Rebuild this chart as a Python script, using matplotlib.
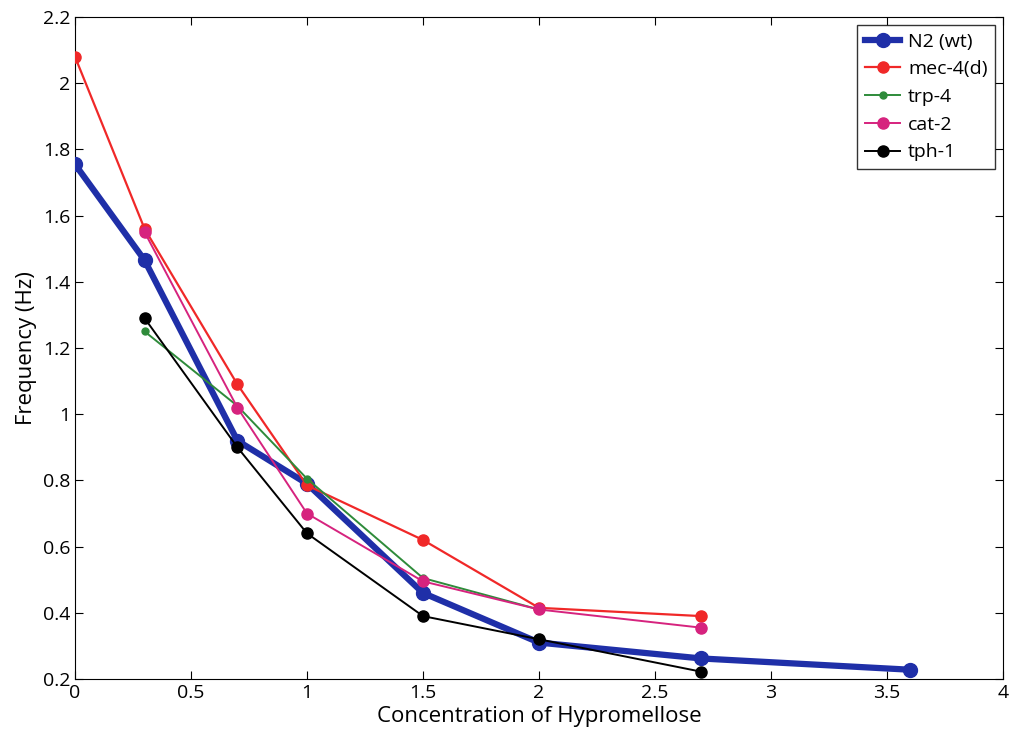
import matplotlib
matplotlib.use("Agg")
import matplotlib.pyplot as plt

plt.rcParams['font.family'] = ['Open Sans', 'DejaVu Sans']

n2_x = [0, 0.3, 0.7, 1.0, 1.5, 2.0, 2.7, 3.6]
n2_y = [1.755, 1.465, 0.92, 0.79, 0.46, 0.31, 0.262, 0.228]
mec_x = [0, 0.3, 0.7, 1.0, 1.5, 2.0, 2.7]
mec_y = [2.08, 1.56, 1.09, 0.785, 0.62, 0.415, 0.39]
trp_x = [0.3, 0.7, 1.0, 1.5, 2.0]
trp_y = [1.25, 1.025, 0.805, 0.505, 0.41]
cat_x = [0.3, 0.7, 1.0, 1.5, 2.0, 2.7]
cat_y = [1.55, 1.02, 0.70, 0.495, 0.41, 0.355]
tph_x = [0.3, 0.7, 1.0, 1.5, 2.0, 2.7]
tph_y = [1.29, 0.90, 0.64, 0.39, 0.32, 0.222]

xticks = [0, 0.5, 1, 1.5, 2, 2.5, 3, 3.5, 4]
xticklabels = ['0', '0.5', '1', '1.5', '2', '2.5', '3', '3.5', '4']
yticks = [0.2, 0.4, 0.6, 0.8, 1.0, 1.2, 1.4, 1.6, 1.8, 2.0, 2.2]
yticklabels = ['0.2', '0.4', '0.6', '0.8', '1', '1.2', '1.4', '1.6', '1.8', '2', '2.2']

fig = plt.figure(figsize=(10.12, 7.42), dpi=100)
ax = fig.add_axes([75/1012, 1 - 679/742, (1003-75)/1012, (679-17)/742])

ax.plot(n2_x, n2_y, color='#1f2fa8', lw=4.5, marker='o', ms=10, label='N2 (wt)', zorder=3)
ax.plot(mec_x, mec_y, color='#f02828', lw=1.6, marker='o', ms=8, label='mec-4(d)', zorder=4)
ax.plot(trp_x, trp_y, color='#2e8b3a', lw=1.4, marker='o', ms=5, label='trp-4', zorder=4)
ax.plot(cat_x, cat_y, color='#d6237e', lw=1.4, marker='o', ms=8, label='cat-2', zorder=5)
ax.plot(tph_x, tph_y, color='black', lw=1.4, marker='o', ms=8, label='tph-1', zorder=6)

ax.set_xlim(0, 4)
ax.set_ylim(0.2, 2.2)
ax.set_xticks(xticks)
ax.set_xticklabels(xticklabels)
ax.set_yticks(yticks)
ax.set_yticklabels(yticklabels)
ax.tick_params(direction='in', labelsize=14, top=True, right=True, length=6)
ax.set_xlabel('Concentration of Hypromellose', fontsize=16, labelpad=3)
ax.set_ylabel('Frequency (Hz)', fontsize=16)

leg = ax.legend(loc='upper right', fontsize=14, fancybox=False, edgecolor='black',
                handlelength=1.8, handletextpad=0.4, borderaxespad=0.4, labelspacing=0.5)
leg.get_frame().set_linewidth(1.0)

fig.savefig('out.png', dpi=100)
